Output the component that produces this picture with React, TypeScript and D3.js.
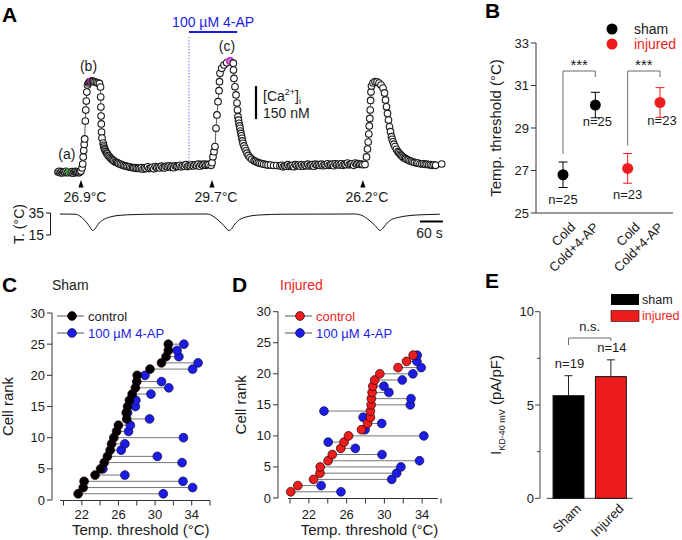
import React from 'react';
import * as d3 from 'd3';

const FONT = "'Liberation Sans', Arial, Helvetica, sans-serif";
const BLUE = '#1c1ce6';
const RED = '#ee1d1d';
const INK = '#1a1a1a';
const GREY = '#6a6a6a';

type Pt = [number, number];

// ---------- Panel A : [Ca2+]i trace (time in s, [Ca2+]i in nM)
const caPreT = [0,3,6,9,12,15,18,21,24,27,31,34,37,40,43,46,49,52,55,57];
const caPreV = [104,108,101,106,100,105,103,108,101,104,104,101,106,99,104,107,102,105,101,106];
const caPre: Pt[] = caPreT.map((t, i) => [t, caPreV[i]]);
const caPeak1: Pt[] = [[60,109],[62.7,123],[64.5,141],[65.8,173],[67.1,202],[68.4,230],[69.7,255],[71.3,336],[72.6,386],[73.9,427],[75.2,468],[77,500],[79.6,509],[82.2,514],[84.9,516],[87.5,518],[90.1,518],[92.7,516],[96.6,514],[100.5,511],[104.4,509],[108.4,507],[111,491],[111.5,445],[112,400],[112.5,359],[113,323],[113.8,286],[114.9,259]];
const caDecay1: Pt[] = [[118,236],[119,226],[120,218],[121.5,211],[123,205],[125,197],[127,191],[129,187],[131,180],[133.5,176],[136,170],[138.5,166],[141,161],[143.5,159],[146,155],[149.5,150],[153,148],[156,146],[159,142],[163,140],[167,136],[171,135],[175,132],[179,131],[183,128],[187,128],[191,125],[195,125],[198,123],[202,124],[206,121],[210,122],[214,120]];
const caFlat1T = [218,222,226,230,234,238,242,246,250,254,258,262,266,270,274,278,282,286,290,294,298,302,306,310,314,318,322,326,330,334,338,342,346,350,354,358,362,366,370,374,378,382,386,390,394];
const caFlat1V = [124,117,123,120,128,120,123,126,119,129,124,127,123,131,125,123,130,127,132,126,130,124,133,130,129,135,128,134,131,138,129,134,132,137,132,137,134,140,131,139,135,140,135,139,138];
const caFlat1: Pt[] = caFlat1T.map((t, i) => [t, caFlat1V[i]]);
const caPeak2: Pt[] = [[400,135],[402.1,147],[404.7,174],[407.3,197],[409.9,220],[412.5,303],[415.1,364],[417.8,424],[420.4,474],[421.7,515],[423,553],[427.4,576],[433.4,591],[440.5,601],[449,609],[457.7,599],[458.2,568],[459.5,530],[462.1,492],[464.8,455],[467.4,418],[468.7,386],[470,356],[471.3,340],[472.6,326],[474,314],[475.2,303],[476.5,291],[477.8,280],[479,269],[480.4,258],[481.7,246],[483,235],[485.6,223],[488.3,212],[491,201],[493.5,190],[497,180],[501.3,171],[506,163],[511.8,156],[515,153],[519,150],[523,147],[527.4,144],[532,143],[537,140],[543,138],[548.3,136],[555,136],[563,134],[571,134],[579.6,132]];
const caFlat2T = [584,588,592,596,600,604,608,612,616,620,624,628,632,636,640,644,648,652,656,660,664,668,672,676,680,684,688,692,696,700,704,708,712,716,720,724,728,732,736,740,744,748,752,756,760,764,768,772,776,780,784,788,792];
const caFlat2V = [135,128,133,131,138,130,133,135,128,138,133,136,131,137,131,136,133,140,132,135,138,131,140,135,138,134,140,133,138,135,142,135,138,140,133,142,137,141,136,142,135,140,138,145,137,140,142,135,145,140,143,139,141];
const caFlat2: Pt[] = caFlat2T.map((t, i) => [t, caFlat2V[i]]);
const caPeak3: Pt[] = [[796,138],[801.6,139],[805.5,173],[808.1,209],[809.9,241],[811.5,277],[812.8,314],[814.1,348],[815.2,386],[816.2,430],[817.2,468],[818.5,495],[822.5,509],[827.7,515],[832.9,514],[838.1,509],[843.4,500],[848.6,486],[852.5,464],[855.1,432],[857.7,401],[860.3,371],[862.9,341],[865.5,310],[868.2,288],[870.8,265],[872.5,253],[874.7,242],[877,231],[879.9,220],[883.5,208],[887.7,197],[890,192],[893,186],[895.5,181],[898.2,177],[901,172],[904.7,168],[908,165],[911.3,161],[915,159],[919.1,155],[923,153],[926.9,150],[931,148],[936,145],[940,145],[945.2,142],[950,141],[954.4,142],[959,139],[963.5,140],[968,137],[972.6,138],[977,135],[981.7,137],[986,135],[1001.8,141]];
const caTrace: Pt[] = [...caPre, ...caPeak1, ...caDecay1, ...caFlat1, ...caPeak2, ...caFlat2, ...caPeak3];

const caMarkerTimes = [31, 87.5, 449];
const caMarkerLabels = ['(a)', '(b)', '(c)'];
const caMarkerColors = ['#22c322', '#c030c0', '#c030c0'];

const thresholdTimes = [60, 402, 796];
const thresholdLabels = ['26.9°C', '29.7°C', '26.2°C'];

const drugStart = 342;
const drugEnd = 468;
const drugLabel = '100 µM 4-AP';

const caBarBase = 345;
const caBarSize = 150;
const caBarTime = 517;
const timeBarStart = 945;
const timeBarSize = 60;

const tempTime = [5,44,57,70,81,90.6,96.6,104,117,136,162,201,266,389,402,418,433,446.5,453,462,475,496,527,587,775,794,812,828,841,847,856,869,888,919,958,997];
const tempValue = [34.1,33.9,32.3,28.2,23.6,19.1,20.5,24.5,28.6,31.4,32.9,33.6,34.0,34.1,32.7,28.6,23.6,19.1,20.5,25,29.1,31.8,33.2,33.9,34.1,32.7,28.6,23.6,19.1,20.5,24.5,28.6,30.9,32.7,33.5,33.9];
const tempTicks = [15, 35];

// ---------- Panel B
const bKeys = ['shamCold', 'shamAP', 'injCold', 'injAP'];
const bConds = ['Cold', 'Cold+4-AP', 'Cold', 'Cold+4-AP'];
const bGroup = ['sham', 'sham', 'injured', 'injured'];
const bMeans = [26.8, 30.08, 27.1, 30.2];
const bSem = [0.6, 0.6, 0.7, 0.7];
const bN = [25, 25, 23, 23];
const bTicks = [25, 27, 29, 31, 33];

// ---------- Panels C / D (cell rank vs threshold)
const shamControl = [21.6,22.15,22.25,23.45,24.05,24.45,24.8,25.1,25.25,25.5,25.8,26.0,26.9,26.85,27.0,27.2,27.5,27.85,28.0,28.05,29.45,30.7,31.2,31.45,31.45];
const sham4AP = [30.9,34.1,33.05,26.7,24.3,32.95,30.25,26.3,26.7,33.1,27.1,27.3,29.4,27.0,27.85,27.9,29.55,31.5,30.7,28.9,34.1,34.7,32.6,32.4,33.15];
const injuredControl = [20.08,20.83,22.5,23.18,23.2,24.03,24.48,25.38,25.73,26.2,27.58,28.22,28.52,28.52,28.6,28.62,28.7,28.78,28.98,29.52,31.45,32.35,33.05];
const injured4AP = [25.4,23.3,30.78,31.3,31.75,33.72,29.75,26.92,24.05,34.18,27.95,29.72,27.75,23.6,32.75,32.82,30.48,29.95,31.9,33.02,33.9,33.45,33.48];
const rankTicks = [0, 5, 10, 15, 20, 25, 30];
const tempAxisTicks = [20, 22, 24, 26, 28, 30, 32, 34, 36];
const tempAxisLabels = [22, 26, 30, 34];

// ---------- Panel E
const eCats = ['Sham', 'Injured'];
const eMeans = [5.5, 6.52];
const eSem = [1.07, 0.9];
const eN = [19, 14];
const eMajor = [0, 5, 10];
const eMinor = [2.5, 7.5];

function PanelLabel({ x, y, t }: { x: number; y: number; t: string }) {
  return <text x={x} y={y} fontSize={21} fontWeight="bold" fill="#000">{t}</text>;
}

function PanelA() {
  const x = d3.scaleLinear().domain([0, 1000]).range([58, 441]);
  const y = d3.scaleLinear().domain([0, 600]).range([195, 63]);
  const yT = d3.scaleLinear().domain([15, 35]).range([235, 213]);
  const line = d3.line<Pt>().x(d => x(d[0])).y(d => y(d[1]));
  const tLine = d3.line<number>().x((_, i) => x(tempTime[i])).y(d => yT(d)).curve(d3.curveMonotoneX);
  const markerIndex = (t: number) => caMarkerTimes.findIndex(m => Math.abs(m - t) < 0.01);
  return (
    <g>
      <PanelLabel x={2} y={22} t="A" />
      <text x={(x(drugStart) + x(drugEnd)) / 2} y={27} fontSize={14} fill={BLUE} textAnchor="middle">{drugLabel}</text>
      <line x1={x(drugStart)} x2={x(drugEnd)} y1={32} y2={32} stroke={BLUE} strokeWidth={2} />
      <line x1={x(drugStart)} x2={x(drugStart)} y1={37} y2={165} stroke="#5050e0" strokeWidth={0.8} strokeDasharray="1.5,1.5" />
      <path d={line(caTrace) || ''} fill="none" stroke="#333" strokeWidth={0.8} />
      {caTrace.map((p, i) => {
        const mi = markerIndex(p[0]);
        const isM = mi >= 0;
        const c = isM ? caMarkerColors[mi] : INK;
        return (
          <circle key={i} cx={x(p[0])} cy={y(p[1])} r={3.3}
            fill={isM && mi > 0 ? '#e070e0' : '#fff'} stroke={c} strokeWidth={isM ? 1.6 : 1.1} />
        );
      })}
      {caMarkerTimes.map((t, i) => {
        const p = caTrace.find(q => Math.abs(q[0] - t) < 0.01)!;
        return (
          <text key={i} x={x(p[0]) - 3} y={y(p[1]) - (i === 0 ? 13 : 10)} fontSize={14} textAnchor="middle" fill={INK}>{caMarkerLabels[i]}</text>
        );
      })}
      {thresholdTimes.map((t, i) => (
        <g key={i}>
          <path d={`M${x(t)},180 L${x(t) - 2.6},187.5 L${x(t) + 2.6},187.5 Z`} fill="#000" />
          <text x={x(t) + 4} y={202} fontSize={14} textAnchor="middle" fill={INK}>{thresholdLabels[i]}</text>
        </g>
      ))}
      <line x1={x(caBarTime)} x2={x(caBarTime)} y1={y(caBarBase)} y2={y(caBarBase + caBarSize)} stroke="#000" strokeWidth={2.2} />
      <text x={x(caBarTime) + 7} y={101} fontSize={14} fill={INK}>[Ca<tspan dy={-6} fontSize={9}>2+</tspan><tspan dy={6}>]</tspan><tspan dy={3} fontSize={9}>i</tspan></text>
      <text x={x(caBarTime) + 7} y={y(caBarBase) - 1} fontSize={14} fill={INK}>{caBarSize} nM</text>
      <path d={tLine(tempValue) || ''} fill="none" stroke="#111" strokeWidth={1} />
      <line x1={50.5} x2={50.5} y1={yT(35)} y2={yT(15)} stroke="#111" strokeWidth={1} />
      {tempTicks.map(v => (
        <g key={v}>
          <line x1={46} x2={50.5} y1={yT(v)} y2={yT(v)} stroke="#111" strokeWidth={1} />
          <text x={44} y={yT(v) + 5} fontSize={14} textAnchor="end" fill={INK}>{v}</text>
        </g>
      ))}
      <text transform={`translate(24,${(yT(35) + yT(15)) / 2}) rotate(-90)`} fontSize={14} textAnchor="middle" fill={INK}>T. (°C)</text>
      <line x1={x(timeBarStart)} x2={x(timeBarStart + timeBarSize)} y1={221.5} y2={221.5} stroke="#000" strokeWidth={2} />
      <text x={(x(timeBarStart) + x(timeBarStart + timeBarSize)) / 2 - 2} y={238} fontSize={14} textAnchor="middle" fill={INK}>{timeBarSize} s</text>
    </g>
  );
}

function PanelB() {
  const y = d3.scaleLinear().domain([25, 33]).range([213, 43]);
  const x = d3.scalePoint<string>().domain(bKeys).range([563, 660]);
  const color = (g: string) => (g === 'sham' ? '#000' : RED);
  const labelOffset = (c: string) => (c === 'Cold' ? 13 : 4);
  const bracket = (i: number, j: number) => {
    const top = 71;
    const x1 = x(bKeys[i])!, x2 = x(bKeys[j])!;
    return (
      <g key={`br${i}`}>
        <path d={`M${x1},${y(bMeans[i] + bSem[i]) - 8} V${top} H${x2} V${top + 6}`} fill="none" stroke={GREY} strokeWidth={1} />
        <text x={(x1 + x2) / 2} y={top - 1} fontSize={15} textAnchor="middle" fill={INK}>***</text>
      </g>
    );
  };
  return (
    <g>
      <PanelLabel x={485} y={18} t="B" />
      <line x1={536} x2={536} y1={y(33)} y2={y(25)} stroke="#333" strokeWidth={1} />
      <line x1={536} x2={673} y1={y(25)} y2={y(25)} stroke="#333" strokeWidth={1} />
      {bTicks.map(v => (
        <g key={v}>
          <line x1={531} x2={536} y1={y(v)} y2={y(v)} stroke="#333" strokeWidth={1} />
          <text x={529} y={y(v) + 4.5} fontSize={13} textAnchor="end" fill={INK}>{v}</text>
        </g>
      ))}
      <text transform={`translate(501,${(y(33) + y(25)) / 2}) rotate(-90)`} fontSize={15} textAnchor="middle" fill={INK}>Temp. threshold (°C)</text>
      {bracket(0, 1)}
      {bracket(2, 3)}
      {bKeys.map((k, i) => {
        const cx = x(k)!;
        const c = color(bGroup[i]);
        const lo = y(bMeans[i] - bSem[i]);
        const hi = y(bMeans[i] + bSem[i]);
        return (
          <g key={k}>
            <line x1={cx} x2={cx} y1={hi} y2={lo} stroke={c} strokeWidth={1} />
            <line x1={cx - 4.5} x2={cx + 4.5} y1={hi} y2={hi} stroke={c} strokeWidth={1} />
            <line x1={cx - 4.5} x2={cx + 4.5} y1={lo} y2={lo} stroke={c} strokeWidth={1} />
            <circle cx={cx} cy={y(bMeans[i])} r={5.5} fill={c} />
            <text x={bConds[i] === 'Cold' ? cx : cx + 2} y={lo + (bConds[i] === 'Cold' ? 16 : 8)} fontSize={13} textAnchor="middle" fill={INK}>n={bN[i]}</text>
            <text transform={`translate(${cx + labelOffset(bConds[i])},228) rotate(-45)`} fontSize={13} textAnchor="end" fill={INK}>{bConds[i]}</text>
          </g>
        );
      })}
      <circle cx={612} cy={29} r={5.5} fill="#000" />
      <text x={634} y={34} fontSize={14} fill={INK}>sham</text>
      <circle cx={612} cy={44} r={5.5} fill={RED} />
      <text x={634} y={49} fontSize={14} fill={RED}>injured</text>
    </g>
  );
}

function RankPanel(props: {
  ox: number; xr: [number, number]; yr: [number, number]; axisX0: number; axisX1: number;
  control: number[]; drug: number[]; ctrlColor: string; letter: string; title: string; titleColor: string;
  titleX: number; rankLabelX: number; legendX: number;
}) {
  const { xr, yr, control, drug, ctrlColor } = props;
  const x = d3.scaleLinear().domain([20, 36]).range(xr);
  const y = d3.scaleLinear().domain([0, 30]).range(yr);
  const yAxisX = props.ox;
  const ranks = control.map((_, i) => i + 1);
  const lx = props.legendX;
  return (
    <g>
      <PanelLabel x={props.ox - 50 + (props.letter === 'C' ? 0 : 4)} y={292} t={props.letter} />
      <text x={props.titleX} y={290} fontSize={14} fill={props.titleColor}>{props.title}</text>
      <line x1={yAxisX} x2={yAxisX} y1={y(30)} y2={y(0)} stroke="#333" strokeWidth={1} />
      <line x1={props.axisX0} x2={props.axisX1} y1={y(0) + 0.5} y2={y(0) + 0.5} stroke="#333" strokeWidth={1} />
      {rankTicks.map(v => (
        <g key={v}>
          <line x1={yAxisX - 5} x2={yAxisX} y1={y(v)} y2={y(v)} stroke="#333" strokeWidth={1} />
          <text x={yAxisX - 7} y={y(v) + 4.5} fontSize={13} textAnchor="end" fill={INK}>{v}</text>
        </g>
      ))}
      {tempAxisTicks.map(v => (
        <line key={v} x1={x(v)} x2={x(v)} y1={y(0) + 0.5} y2={y(0) + 5.5} stroke="#333" strokeWidth={1} />
      ))}
      {tempAxisLabels.map(v => (
        <text key={v} x={x(v)} y={519} fontSize={13} textAnchor="middle" fill={INK}>{v}</text>
      ))}
      <text x={(x(20) + x(36)) / 2 + 4} y={535} fontSize={15} textAnchor="middle" fill={INK}>Temp. threshold (°C)</text>
      <text transform={`translate(${props.rankLabelX},${(y(0) + y(30)) / 2}) rotate(-90)`} fontSize={15} textAnchor="middle" fill={INK}>Cell rank</text>
      {ranks.map((r, i) => (
        <line key={`l${r}`} x1={x(control[i])} x2={x(drug[i])} y1={y(r)} y2={y(r)} stroke="#777" strokeWidth={1} />
      ))}
      {ranks.map((r, i) => (
        <circle key={`d${r}`} cx={x(drug[i])} cy={y(r)} r={4.4} fill={BLUE} stroke="#101040" strokeWidth={0.7} />
      ))}
      {ranks.map((r, i) => (
        <circle key={`c${r}`} cx={x(control[i])} cy={y(r)} r={4.4} fill={ctrlColor} stroke="#200" strokeWidth={0.7} />
      ))}
      <line x1={lx} x2={lx + 27} y1={316} y2={316} stroke="#555" strokeWidth={1} />
      <circle cx={lx + 15} cy={316} r={4.4} fill={ctrlColor} stroke="#200" strokeWidth={0.7} />
      <text x={lx + 31} y={321} fontSize={13} fill={ctrlColor === '#000' ? INK : RED}>control</text>
      <line x1={lx} x2={lx + 27} y1={333} y2={333} stroke="#555" strokeWidth={1} />
      <circle cx={lx + 15} cy={333} r={4.4} fill={BLUE} stroke="#101040" strokeWidth={0.7} />
      <text x={lx + 31} y={338} fontSize={13} fill={BLUE}>{drugLabel}</text>
    </g>
  );
}

function PanelE() {
  const y = d3.scaleLinear().domain([0, 10]).range([498.3, 311.7]);
  const x = d3.scaleBand<string>().domain(eCats).range([546.7, 632.7]).paddingInner(0.27).paddingOuter(0.15);
  const colors = ['#000', RED];
  const bw = x.bandwidth();
  const c0 = x(eCats[0])! + bw / 2;
  const c1 = x(eCats[1])! + bw / 2;
  const brTop = 338;
  return (
    <g>
      <PanelLabel x={485} y={288} t="E" />
      <line x1={540} x2={540} y1={y(10)} y2={y(0)} stroke="#444" strokeWidth={1} />
      <line x1={546.7} x2={632.7} y1={y(0)} y2={y(0)} stroke="#444" strokeWidth={1} />
      {eMajor.map(v => (
        <g key={v}>
          <line x1={535} x2={540} y1={y(v)} y2={y(v)} stroke="#444" strokeWidth={1} />
          <text x={534} y={y(v) + 4.5} fontSize={13} textAnchor="end" fill={INK}>{v}</text>
        </g>
      ))}
      {eMinor.map(v => (
        <line key={v} x1={537} x2={540} y1={y(v)} y2={y(v)} stroke="#444" strokeWidth={1} />
      ))}
      <text transform={`translate(501,${(y(0) + y(10)) / 2}) rotate(-90)`} fontSize={15} textAnchor="middle" fill={INK}>I<tspan dy={3.5} fontSize={9}>KD-40 mV</tspan><tspan dy={-3.5}> (pA/pF)</tspan></text>
      {eCats.map((c, i) => {
        const bx = x(c)!;
        const cx = bx + bw / 2;
        const top = y(eMeans[i]);
        const et = y(eMeans[i] + eSem[i]);
        return (
          <g key={c}>
            <line x1={cx} x2={cx} y1={top} y2={et} stroke="#222" strokeWidth={1} />
            <line x1={cx - 4} x2={cx + 4} y1={et} y2={et} stroke="#222" strokeWidth={1} />
            <rect x={bx} y={top} width={bw} height={y(0) - top} fill={colors[i]} stroke="#111" strokeWidth={1} />
            <text x={cx + 1} y={et - 8} fontSize={13} textAnchor="middle" fill={INK}>n={eN[i]}</text>
            <text transform={`translate(${cx + 13.5},509.5) rotate(-45)`} fontSize={13} textAnchor="end" fill={INK}>{c}</text>
          </g>
        );
      })}
      <path d={`M${c0},${brTop + 7} V${brTop} H${c1} V${brTop + 3}`} fill="none" stroke={GREY} strokeWidth={1} />
      <text x={(c0 + c1) / 2} y={331} fontSize={13} textAnchor="middle" fill={INK}>n.s.</text>
      <rect x={611} y={294} width={28} height={11} fill="#000" />
      <text x={642} y={304} fontSize={12.5} fill={INK}>sham</text>
      <rect x={611} y={310.5} width={28} height={11} fill={RED} stroke="#300" strokeWidth={0.6} />
      <text x={642} y={320} fontSize={12.5} fill={RED}>injured</text>
    </g>
  );
}

export default function App() {
  return (
    <svg width={682} height={540} fontFamily={FONT}
      style={{ position: 'absolute', left: 0, top: 0, background: '#fff' }}>
      <rect x={0} y={0} width={682} height={540} fill="#fff" />
      <PanelA />
      <PanelB />
      <RankPanel ox={52} xr={[63.5, 210]} yr={[500, 313]} axisX0={60} axisX1={210}
        control={shamControl} drug={sham4AP} ctrlColor="#000" letter="C" title="Sham" titleColor={INK}
        titleX={52} rankLabelX={13} legendX={57} />
      <RankPanel ox={278} xr={[290, 441]} yr={[498, 311.7]} axisX0={288} axisX1={438}
        control={injuredControl} drug={injured4AP} ctrlColor={RED} letter="D" title="Injured" titleColor={RED}
        titleX={280} rankLabelX={246} legendX={285} />
      <PanelE />
    </svg>
  );
}
